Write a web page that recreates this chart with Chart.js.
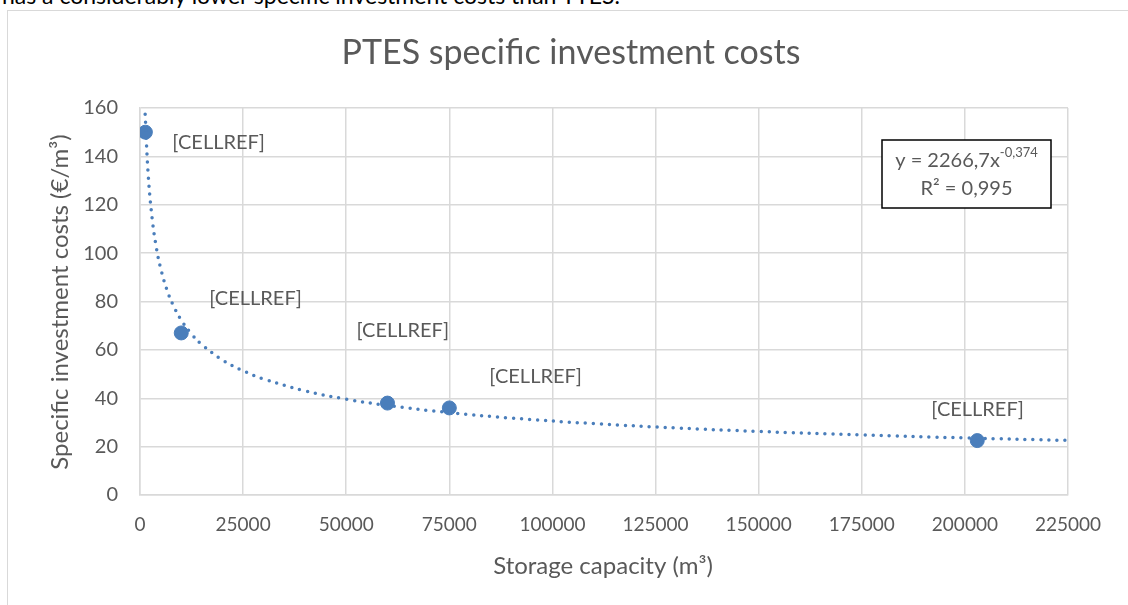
<!DOCTYPE html>
<html>
<head>
<meta charset="utf-8">
<script src="https://cdn.jsdelivr.net/npm/chart.js@4"></script>
<style>
  html, body { margin: 0; padding: 0; background: #fff; overflow: hidden; }
  #wrap { position: relative; width: 1128px; height: 605px; }
  #frame { position: absolute; left: 7px; top: 10px; width: 1200px; height: 700px; border: 1px solid #d9d9d9; box-sizing: border-box; }
  #above { position: absolute; left: 2px; top: -19px; font-family: Lato, sans-serif; font-size: 23px; color: #000; white-space: nowrap; }
  canvas { position: absolute; left: 0; top: 0; }
</style>
</head>
<body>
<div id="wrap">
  <div id="above">has a considerably lower specific investment costs than TTES.</div>
  <div id="frame"></div>
  <canvas id="chart" width="1128" height="605"></canvas>
</div>
<script>
// storage capacity (m3) and specific cost (EUR/m3)
const capacity = [1300, 10000, 60000, 75000, 203000];
const cost = [150, 67, 38, 36, 22.5];
const pointLabels = ['[CELLREF]', '[CELLREF]', '[CELLREF]', '[CELLREF]', '[CELLREF]'];

// power trendline shown on the chart: y = 2266,7 x^-0,374
const trendA = 2266.7;
const trendB = -0.374;
const trendX = [1250, 2000, 3000, 4000, 5000, 6500, 8000, 10000, 12500, 15000, 20000, 25000, 30000,
  40000, 50000, 60000, 75000, 90000, 110000, 130000, 150000, 175000, 200000, 225000];

const xTicks = [0, 25000, 50000, 75000, 100000, 125000, 150000, 175000, 200000, 225000];
const yTicks = [0, 20, 40, 60, 80, 100, 120, 140, 160];

const FONT = 'Lato, sans-serif';
const GREY = '#595959';
const BLUE = '#4A7EBB';

// label offsets from the marker (px): left edge, vertical centre
const labelOffsets = [[27, 10], [28, -34], [-31, -73], [40, -31], [-46, -31]];

const textPlugin = {
  id: 'texts',
  afterDraw(chart) {
    const ctx = chart.ctx;
    ctx.save();
    ctx.fillStyle = GREY;

    // title
    ctx.font = '34px ' + FONT;
    ctx.textAlign = 'center';
    ctx.textBaseline = 'middle';
    ctx.fillText('PTES specific investment costs', 571, 53);

    // axis titles
    ctx.font = '24px ' + FONT;
    ctx.fillText('Storage capacity (m³)', 603, 566);
    ctx.save();
    ctx.translate(60, 302);
    ctx.rotate(-Math.PI / 2);
    ctx.fillText('Specific investment costs (€/m³)', 0, 0);
    ctx.restore();

    // data labels
    const meta = chart.getDatasetMeta(1);
    ctx.font = '20px ' + FONT;
    ctx.textAlign = 'left';
    meta.data.forEach((pt, i) => {
      const off = labelOffsets[i];
      ctx.fillText(pointLabels[i], pt.x + off[0], pt.y + off[1]);
    });

    // equation box
    const bx = 882, by = 140, bw = 169, bh = 68;
    ctx.fillStyle = '#fff';
    ctx.fillRect(bx, by, bw, bh);
    ctx.strokeStyle = '#000';
    ctx.lineWidth = 1.5;
    ctx.strokeRect(bx, by, bw, bh);
    ctx.fillStyle = GREY;
    const main = 'y = ' + String(trendA).replace('.', ',') + 'x';
    const sup = String(trendB).replace('.', ',');
    ctx.font = '20px ' + FONT;
    const w1 = ctx.measureText(main).width;
    ctx.font = '13px ' + FONT;
    const w2 = ctx.measureText(sup).width;
    const sx = bx + bw / 2 - (w1 + w2) / 2;
    ctx.textAlign = 'left';
    ctx.font = '20px ' + FONT;
    ctx.fillText(main, sx, by + 21);
    ctx.font = '13px ' + FONT;
    ctx.fillText(sup, sx + w1, by + 13);
    ctx.font = '20px ' + FONT;
    ctx.textAlign = 'center';
    ctx.fillText('R² = 0,995', bx + bw / 2, by + 49);

    ctx.restore();
  }
};

new Chart(document.getElementById('chart'), {
  type: 'scatter',
  data: {
    datasets: [
      {
        label: 'Trend',
        data: trendX.map(x => ({ x: x, y: trendA * Math.pow(x, trendB) })),
        showLine: true,
        borderColor: BLUE,
        borderWidth: 3.5,
        borderDash: [0, 8],
        borderCapStyle: 'round',
        pointRadius: 0,
        tension: 0.4,
        fill: false
      },
      {
        label: 'PTES',
        data: capacity.map((x, i) => ({ x: x, y: cost[i] })),
        backgroundColor: BLUE,
        borderColor: BLUE,
        pointRadius: 7,
        pointHoverRadius: 7
      }
    ]
  },
  options: {
    responsive: false,
    animation: false,
    layout: { padding: { top: 108, right: 60, left: 0, bottom: 0 } },
    plugins: {
      legend: { display: false },
      tooltip: { enabled: false }
    },
    scales: {
      x: {
        type: 'linear',
        min: 0,
        max: 225000,
        afterFit: s => { s.height = 110; },
        afterBuildTicks: s => { s.ticks = xTicks.map(v => ({ value: v })); },
        ticks: {
          color: GREY,
          font: { family: FONT, size: 19 },
          padding: 18,
          maxRotation: 0,
          callback: v => String(v)
        },
        grid: { color: '#d9d9d9', lineWidth: 1.5, drawTicks: false },
        border: { color: '#d9d9d9', width: 1.5 }
      },
      y: {
        min: 0,
        max: 160,
        afterFit: s => { s.width = 140; },
        afterBuildTicks: s => { s.ticks = yTicks.map(v => ({ value: v })); },
        ticks: {
          color: GREY,
          font: { family: FONT, size: 20 },
          padding: 22,
          callback: v => String(v)
        },
        grid: { color: '#d9d9d9', lineWidth: 1.5, drawTicks: false },
        border: { color: '#d9d9d9', width: 1.5 }
      }
    }
  },
  plugins: [textPlugin]
});
</script>
</body>
</html>
